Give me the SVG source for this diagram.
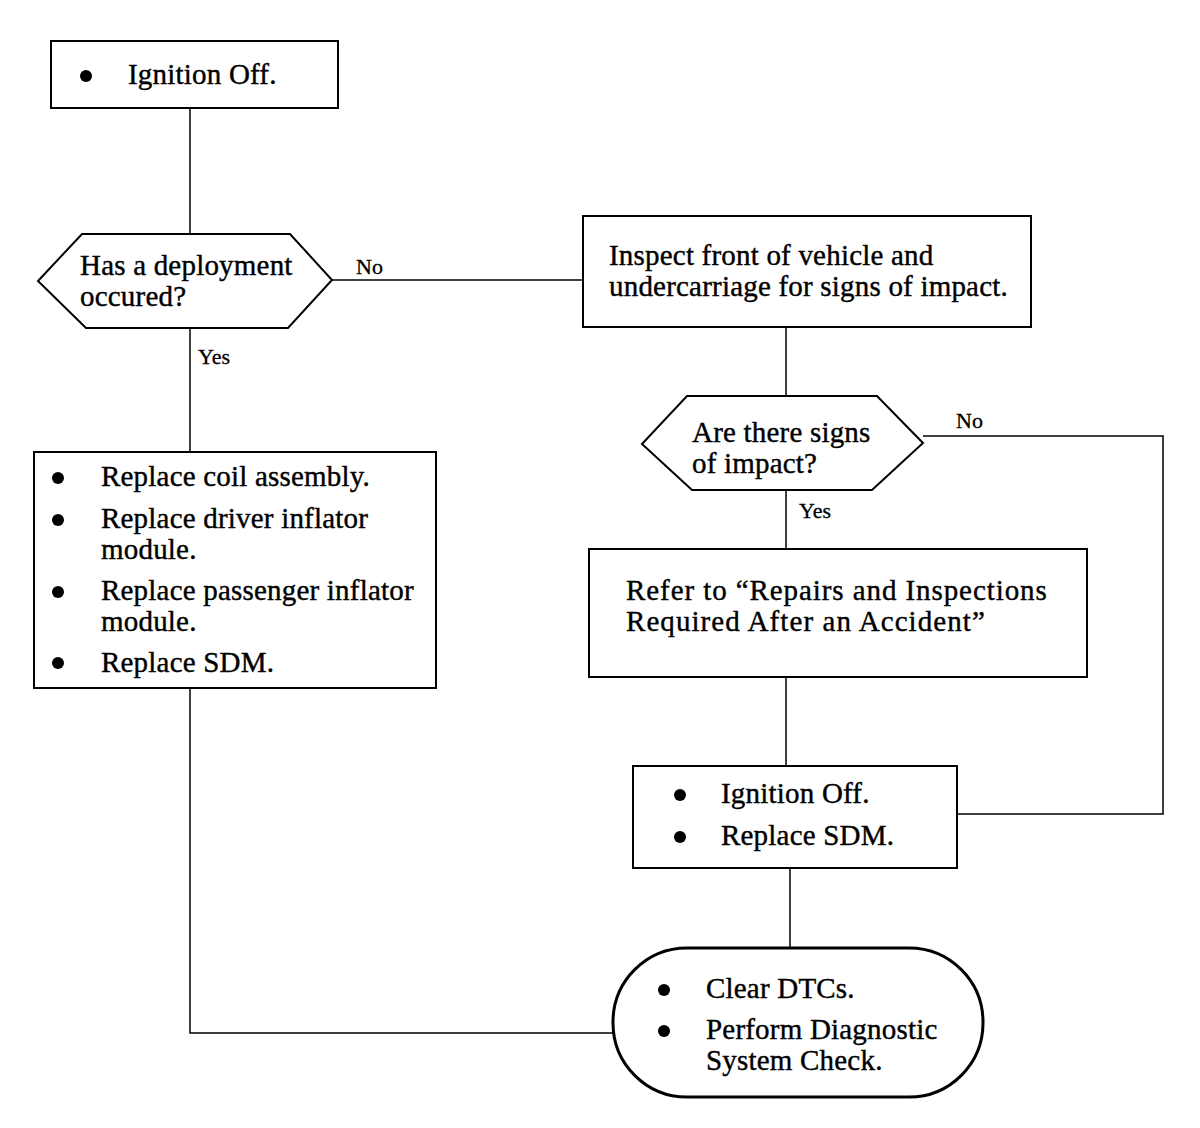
<svg xmlns="http://www.w3.org/2000/svg" width="1200" height="1128" viewBox="0 0 1200 1128">
<style>
.n{fill:#fff;stroke:#000;stroke-width:2}
.t{font-family:"Liberation Serif","Times New Roman",serif;font-size:29px;letter-spacing:0.2px;fill:#000;stroke:#000;stroke-width:0.4}
.l{font-family:"Liberation Serif","Times New Roman",serif;font-size:22px;fill:#000;stroke:#000;stroke-width:0.3}
.c{fill:none;stroke:#000;stroke-width:1.5}
</style>
<rect width="1200" height="1128" fill="#fff"/>
<g id="connectors">
<path class="c" d="M190 108V234"/>
<path class="c" d="M332 280H583"/>
<path class="c" d="M190 328V452"/>
<path class="c" d="M190 688V1033H613"/>
<path class="c" d="M786 327V396"/>
<path class="c" d="M923 436H1163V814H957"/>
<path class="c" d="M786 490V549"/>
<path class="c" d="M786 677V766"/>
<path class="c" d="M790 868V948"/>
<text class="l" x="356" y="274">No</text>
<text class="l" x="198" y="364">Yes</text>
<text class="l" x="956" y="428">No</text>
<text class="l" x="799" y="518">Yes</text>
</g>
<g id="start">
<rect class="n" x="51" y="41" width="287" height="67"/>
<circle cx="86" cy="76" r="6"/>
<text class="t" x="128" y="84">Ignition Off.</text>
</g>
<g id="deployment">
<polygon class="n" points="38,281 82,234 290,234 332,280 288,328 86,328"/>
<text class="t" x="80" y="275">Has a deployment</text>
<text class="t" x="80" y="306">occured?</text>
</g>
<g id="inspect">
<rect class="n" x="583" y="216" width="448" height="111"/>
<text class="t" x="609" y="265">Inspect front of vehicle and</text>
<text class="t" x="609" y="296">undercarriage for signs of impact.</text>
</g>
<g id="replace">
<rect class="n" x="34" y="452" width="402" height="236"/>
<circle cx="58" cy="478" r="6"/>
<circle cx="58" cy="520" r="6"/>
<circle cx="58" cy="592" r="6"/>
<circle cx="58" cy="663" r="6"/>
<text class="t" x="101" y="486">Replace coil assembly.</text>
<text class="t" x="101" y="528">Replace driver inflator</text>
<text class="t" x="101" y="559">module.</text>
<text class="t" x="101" y="600">Replace passenger inflator</text>
<text class="t" x="101" y="631">module.</text>
<text class="t" x="101" y="672">Replace SDM.</text>
</g>
<g id="signs">
<polygon class="n" points="642,444 687,396 877,396 923,443 872,490 692,490"/>
<text class="t" x="692" y="442">Are there signs</text>
<text class="t" x="692" y="473">of impact?</text>
</g>
<g id="refer">
<rect class="n" x="589" y="549" width="498" height="128"/>
<text class="t" x="626" y="600" textLength="421" lengthAdjust="spacing">Refer to “Repairs and Inspections</text>
<text class="t" x="626" y="631" textLength="359" lengthAdjust="spacing">Required After an Accident”</text>
</g>
<g id="sdm">
<rect class="n" x="633" y="766" width="324" height="102"/>
<circle cx="680" cy="795" r="6"/>
<circle cx="680" cy="837" r="6"/>
<text class="t" x="721" y="803">Ignition Off.</text>
<text class="t" x="721" y="845">Replace SDM.</text>
</g>
<g id="clear">
<rect class="n" x="613" y="948" width="370" height="149" rx="74" ry="74" style="stroke-width:3"/>
<circle cx="664" cy="990" r="6"/>
<circle cx="664" cy="1031" r="6"/>
<text class="t" x="706" y="998">Clear DTCs.</text>
<text class="t" x="706" y="1039">Perform Diagnostic</text>
<text class="t" x="706" y="1070">System Check.</text>
</g>
</svg>
